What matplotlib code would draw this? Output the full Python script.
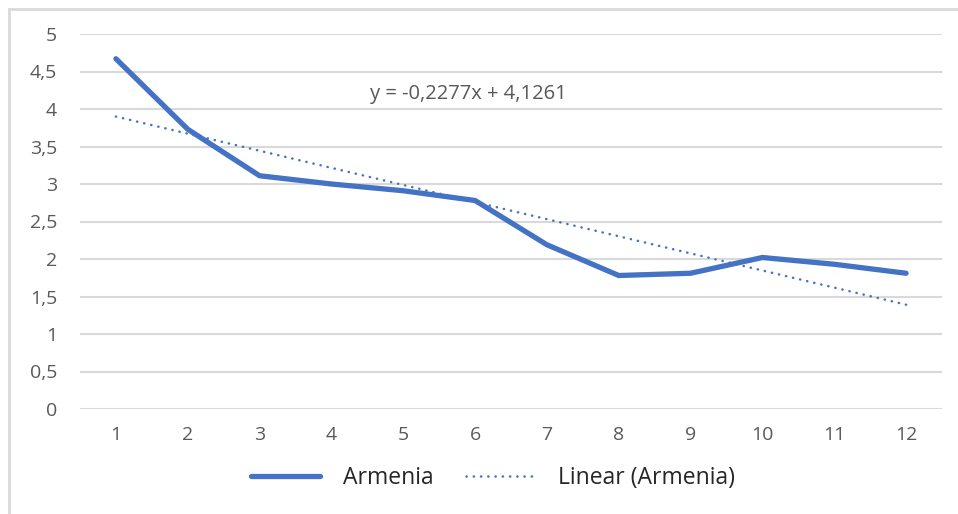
import numpy as np
import matplotlib.pyplot as plt
from matplotlib.lines import Line2D

# values
months = list(range(1, 13))
armenia = [4.67, 3.73, 3.11, 3.00, 2.91, 2.78, 2.19, 1.78, 1.81, 2.02, 1.93, 1.81]
y_ticks = [0, 0.5, 1, 1.5, 2, 2.5, 3, 3.5, 4, 4.5, 5]
y_labels = ['0', '0,5', '1', '1,5', '2', '2,5', '3', '3,5', '4', '4,5', '5']
equation = 'y = -0,2277x + 4,1261'

blue = '#4472C4'
grid = '#D9D9D9'
grey_txt = '#595959'
plt.rcParams['font.family'] = ['Open Sans', 'DejaVu Sans']

fig = plt.figure(figsize=(9.58, 5.14), dpi=100)
ax = fig.add_axes([80 / 958, 105 / 514, 862 / 958, 375 / 514])

# linear trend fitted to the series
coef = np.polyfit(months, armenia, 1)
trend = np.polyval(coef, months)
dots = (0, (0.1, 2.8))

ax.plot(months, armenia, color=blue, lw=3.8, solid_capstyle='round', solid_joinstyle='round', zorder=3)
ax.plot(months, trend, color=blue, lw=1.8, linestyle=dots, dash_capstyle='round', zorder=3)

ax.set_xlim(0.5, 12.5)
ax.set_ylim(0, 5)
ax.set_xticks(months)
ax.set_yticks(y_ticks)
ax.set_yticklabels(y_labels)
ax.tick_params(length=0, labelsize=14, colors=grey_txt)
ax.tick_params(axis='x', pad=12)
ax.tick_params(axis='y', pad=16.5)
ax.grid(axis='y', color=grid, lw=1.5)
ax.set_axisbelow(True)
for s in ax.spines.values():
    s.set_visible(False)

ax.text(5.9, 4.2, equation, color=grey_txt, fontsize=14.5, ha='center', va='center')

handles = [Line2D([], [], color=blue, lw=3.8, solid_capstyle='round'),
           Line2D([], [], color=blue, lw=1.8, linestyle=dots, dash_capstyle='round')]
fig.legend(handles, ['Armenia', 'Linear (Armenia)'], loc='center', bbox_to_anchor=(493 / 958, 36 / 514),
           ncol=2, frameon=False, fontsize=16.5, handlelength=3.0, columnspacing=1.4, handletextpad=1.0,
           labelcolor='#262626')

# outer chart frame (top and left visible in the crop)
fig.add_artist(Line2D([9 / 958, 1], [1 - 9 / 514] * 2, color=grid, lw=2, transform=fig.transFigure))
fig.add_artist(Line2D([9 / 958] * 2, [0, 1 - 9 / 514], color=grid, lw=2, transform=fig.transFigure))

fig.savefig('out.png', dpi=100)
